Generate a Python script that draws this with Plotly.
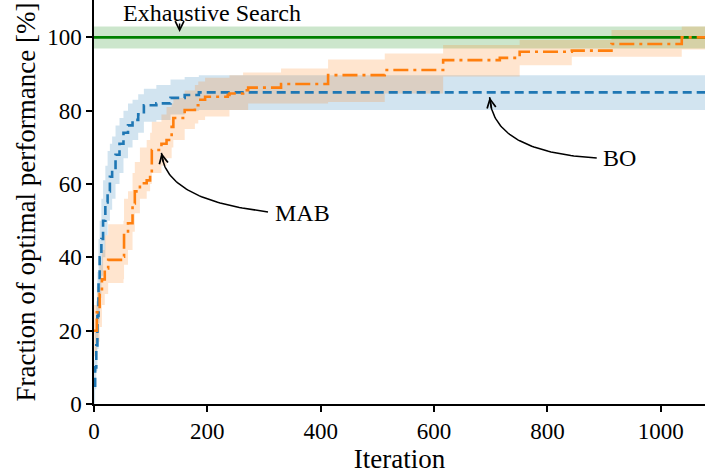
import plotly.graph_objects as go

# ---- data: fraction of optimal performance [%] vs. iteration (step curves) ----
bo_iter = [0, 2, 4, 6, 8, 10, 13, 16, 20, 24, 28, 32, 38, 45, 52, 60, 68, 78, 88,
           110, 135, 160, 185, 1080]
bo_mean = [5, 10, 16, 24, 33, 40, 45, 50, 55, 58, 62, 64, 68, 71, 74, 76, 77.5, 79, 81.5,
           82, 83.5, 84.3, 85, 85]
bo_low = [0, 4, 9, 15, 22, 29, 35, 40, 46, 50, 53, 56, 60, 63, 67, 70, 72, 74, 77,
          77.5, 79, 80, 80.2, 80.2]
bo_high = [12, 20, 28, 36, 45, 50, 56, 61, 65, 69, 71, 73, 76, 78, 80, 82, 83, 84.5, 86,
           87, 88.5, 89.2, 89.7, 89.7]

mab_iter = [0, 5, 10, 14, 19, 25, 52, 53, 60, 68, 72, 81, 93, 99, 102, 119, 128, 137, 140,
            160, 178, 184, 196, 236, 239, 263, 272, 330, 413, 513, 616, 716, 751, 843,
            913, 1037, 1080]
mab_mean = [20, 25, 30, 34, 37, 39.3, 40.2, 46.5, 49.3, 54.7, 58, 60.2, 61, 62.5, 69.3, 71,
            72, 75.6, 78, 80.2, 81.5, 83, 83.8, 84.3, 84.7, 85.6, 86.3, 87.3, 89.7, 91.1,
            93.8, 94.4, 96.1, 96.4, 98.2, 100, 100]
mab_low = [13, 17, 21, 27, 30, 33, 34, 38, 42, 47, 52, 56, 58, 60, 63, 65, 67, 70, 72,
           75, 76.5, 77.5, 78.4, 78.4, 80.2, 80.2, 82, 82, 82.4, 84.7, 89.3, 89.3, 92.4,
           94.7, 94.7, 96.7, 96.7]
mab_high = [27, 32, 38, 42, 46, 49, 50, 56, 58, 63, 66, 70, 72, 74, 77, 79, 81, 82, 83.5,
            85.5, 87, 88, 89, 89, 89.7, 90.4, 90.4, 91.5, 94, 95.6, 97.9, 97.9, 99.3,
            99.3, 102, 103, 103]

exh_iter = [0, 1080]
exh_mean = [100, 100]
exh_low = [97, 97]
exh_high = [103, 103]

x_ticks = [0, 200, 400, 600, 800, 1000]
y_ticks = [0, 20, 40, 60, 80, 100]

# ---- layout geometry ----
W, H = 705, 474
MARGIN = dict(l=94, r=0, t=0, b=70)
X_RANGE = [0, 1078]
Y_RANGE = [0, 110.2]
FONT = "Liberation Serif"

BLUE, ORANGE, GREEN = "#1f77b4", "#ff7f0e", "#008000"


def to_px(x, y):
    pw = W - MARGIN["l"] - MARGIN["r"]
    ph = H - MARGIN["t"] - MARGIN["b"]
    px = MARGIN["l"] + (x - X_RANGE[0]) / (X_RANGE[1] - X_RANGE[0]) * pw
    py = MARGIN["t"] + (Y_RANGE[1] - y) / (Y_RANGE[1] - Y_RANGE[0]) * ph
    return px, py


def to_data(px, py):
    pw = W - MARGIN["l"] - MARGIN["r"]
    ph = H - MARGIN["t"] - MARGIN["b"]
    x = X_RANGE[0] + (px - MARGIN["l"]) / pw * (X_RANGE[1] - X_RANGE[0])
    y = Y_RANGE[1] - (py - MARGIN["t"]) / ph * (Y_RANGE[1] - Y_RANGE[0])
    return x, y


fig = go.Figure()


def add_band(xs, lo, hi, rgba):
    fig.add_trace(go.Scatter(x=xs, y=lo, mode="lines", line=dict(width=0, shape="hv"),
                             hoverinfo="skip", showlegend=False))
    fig.add_trace(go.Scatter(x=xs, y=hi, mode="lines", line=dict(width=0, shape="hv"),
                             fill="tonexty", fillcolor=rgba, hoverinfo="skip",
                             showlegend=False))


add_band(exh_iter, exh_low, exh_high, "rgba(0,128,0,0.2)")
add_band(bo_iter, bo_low, bo_high, "rgba(31,119,180,0.2)")
add_band(mab_iter, mab_low, mab_high, "rgba(255,127,14,0.2)")

fig.add_trace(go.Scatter(x=exh_iter, y=exh_mean, mode="lines",
                         line=dict(color=GREEN, width=2.6), name="Exhaustive Search"))
fig.add_trace(go.Scatter(x=bo_iter, y=bo_mean, mode="lines",
                         line=dict(color=BLUE, width=2.6, shape="hv", dash="9px,5px"),
                         name="BO"))
fig.add_trace(go.Scatter(x=mab_iter, y=mab_mean, mode="lines",
                         line=dict(color=ORANGE, width=2.6, shape="hv",
                                   dash="15px,5px,3px,5px"),
                         name="MAB"))

# ---- curved labels pointing at the curves ----
labels = [
    dict(text="MAB", text_at=(367, 52), tail=(307, 52.4), tip=(119, 68.5), bend=(3.5, -12)),
    dict(text="BO", text_at=(928, 67), tail=(887, 67.1), tip=(698, 83.7), bend=(3, -6)),
]

annotations = []
for lab in labels:
    sx, sy = to_px(*lab["tail"])
    ex, ey = to_px(*lab["tip"])
    cx, cy = ex + lab["bend"][0], sy + lab["bend"][1]
    n = 60
    pts = []
    for i in range(n + 1):
        t = i / n
        bx = (1 - t) ** 2 * sx + 2 * (1 - t) * t * cx + t ** 2 * ex
        by = (1 - t) ** 2 * sy + 2 * (1 - t) * t * cy + t ** 2 * ey
        pts.append(to_data(bx, by))
    fig.add_trace(go.Scatter(x=[p[0] for p in pts], y=[p[1] for p in pts], mode="lines",
                             line=dict(color="black", width=1.5), hoverinfo="skip",
                             showlegend=False))
    t = 0.88
    bx = (1 - t) ** 2 * sx + 2 * (1 - t) * t * cx + t ** 2 * ex
    by = (1 - t) ** 2 * sy + 2 * (1 - t) * t * cy + t ** 2 * ey
    annotations.append(dict(x=lab["tip"][0], y=lab["tip"][1], xref="x", yref="y",
                            ax=bx - ex, ay=by - ey, text="", showarrow=True,
                            arrowhead=5, arrowsize=1.15, arrowwidth=1.5,
                            arrowcolor="black", standoff=0))
    annotations.append(dict(x=lab["text_at"][0], y=lab["text_at"][1], xref="x", yref="y",
                            text=lab["text"], showarrow=False,
                            font=dict(family=FONT, size=24, color="black")))

# Exhaustive search label with a short arrow onto the 100 % line
annotations.append(dict(x=151, y=101.5, xref="x", yref="y", ax=0, ay=-10, text="",
                        showarrow=True, arrowhead=5, arrowsize=1.15, arrowwidth=1.5,
                        arrowcolor="black", standoff=0))
annotations.append(dict(x=209, y=106.7, xref="x", yref="y", text="Exhaustive Search",
                        showarrow=False, font=dict(family=FONT, size=24, color="black")))

axis_common = dict(showline=True, linecolor="black", linewidth=1.5, ticks="outside",
                   ticklen=6, tickwidth=1.5, tickcolor="black", showgrid=False,
                   zeroline=False, tickfont=dict(family=FONT, size=23, color="black"))

fig.update_layout(
    width=W, height=H, margin=MARGIN,
    paper_bgcolor="white", plot_bgcolor="white",
    showlegend=False,
    annotations=annotations,
    xaxis=dict(range=X_RANGE, tickvals=x_ticks,
               title=dict(text="Iteration", font=dict(family=FONT, size=27, color="black"),
                          standoff=5),
               **axis_common),
    yaxis=dict(range=Y_RANGE, tickvals=y_ticks,
               title=dict(text="Fraction of optimal performance [%]",
                          font=dict(family=FONT, size=27, color="black"), standoff=4),
               **axis_common),
)

fig.write_html("out.html")
